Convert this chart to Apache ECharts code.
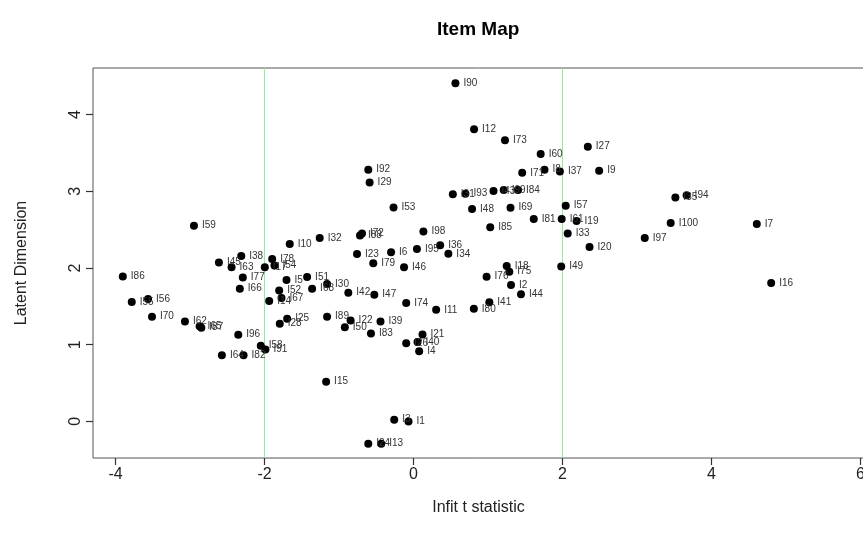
<!DOCTYPE html>
<html>
<head>
<meta charset="utf-8">
<script src="https://cdn.jsdelivr.net/npm/echarts@6/dist/echarts.min.js"></script>
<style>
html,body{margin:0;padding:0;background:#fff;}
#chart{width:863px;height:543px;}
</style>
</head>
<body>
<div id="chart"></div>
<script>
// ---- data ----
const itemNames = ["I59","I10","I32","I38","I78","I45","I63","I17","I54","I77",
  "I66","I86","I56","I55","I70","I62","I65","I87","I96","I58",
  "I91","I64","I82","I15","I5","I51","I52","I67","I14","I68",
  "I30","I25","I28","I89","I50","I22","I42","I47","I74","I11",
  "I39","I83","I21","I26","I40","I4","I23","I6","I95","I36",
  "I34","I79","I46","I18","I75","I76","I2","I44","I41","I80",
  "I49","I3","I1","I24","I13","I90","I12","I73","I60","I27",
  "I92","I29","I71","I8","I37","I9","I53","I31","I93","I43",
  "I99","I84","I48","I69","I57","I81","I61","I19","I85","I33",
  "I98","I72","I88","I20","I97","I100","I7","I35","I94","I16"];
const infitT = [-2.947,-1.661,-1.259,-2.312,-1.897,-2.612,-2.442,-1.996,-1.866,-2.291,
  -2.331,-3.902,-3.563,-3.782,-3.510,-3.068,-2.871,-2.848,-2.352,-2.050,
  -1.987,-2.572,-2.281,-1.173,-1.705,-1.428,-1.803,-1.772,-1.937,-1.361,
  -1.160,-1.696,-1.795,-1.160,-0.922,-0.844,-0.875,-0.526,-0.098,0.304,
  -0.443,-0.571,0.121,-0.098,0.054,0.076,-0.758,-0.301,0.046,0.358,
  0.468,-0.540,-0.127,1.251,1.286,0.981,1.309,1.443,1.018,0.810,
  1.983,-0.259,-0.067,-0.607,-0.433,0.563,0.813,1.228,1.707,2.340,
  -0.607,-0.589,1.459,1.758,1.965,2.492,-0.268,0.528,0.697,1.074,
  1.211,1.403,0.786,1.302,2.043,1.614,1.989,2.189,1.030,2.070,
  0.133,-0.691,-0.718,2.363,3.104,3.452,4.608,3.515,3.666,4.801];
const latentDim = [2.552,2.313,2.391,2.156,2.117,2.073,2.008,2.008,2.034,1.877,
  1.730,1.890,1.596,1.557,1.365,1.304,1.241,1.222,1.130,0.987,
  0.939,0.861,0.861,0.518,1.844,1.883,1.708,1.609,1.570,1.730,
  1.791,1.339,1.274,1.365,1.228,1.317,1.678,1.652,1.544,1.454,
  1.304,1.147,1.134,1.020,1.035,0.913,2.183,2.206,2.248,2.297,
  2.184,2.063,2.008,2.026,1.952,1.887,1.778,1.658,1.554,1.467,
  2.021,0.022,0.000,-0.291,-0.291,4.407,3.807,3.664,3.486,3.582,
  3.282,3.116,3.240,3.282,3.259,3.269,2.790,2.960,2.969,3.005,
  3.018,3.018,2.769,2.786,2.812,2.640,2.640,2.614,2.532,2.450,
  2.476,2.451,2.424,2.274,2.391,2.587,2.574,2.920,2.947,1.804];
const xTicks = [-4, -2, 0, 2, 4, 6];
const yTicks = [0, 1, 2, 3, 4];
const refLines = [-2, 2];
const xRange = [-4.302, 6.047];
const yRange = [-0.477, 4.607];

// ---- chart ----
const FONT = "'Liberation Sans', Arial, Helvetica, sans-serif";
const GREEN = '#90ee90';
const chart = echarts.init(document.getElementById('chart'), null, {renderer: 'canvas'});
const points = itemNames.map((n, i) => ({name: n, value: [infitT[i], latentDim[i]]}));
const refSeries = refLines.map(v => ({
  type: 'line', z: 1, silent: true, symbol: 'none', animation: false, color: GREEN,
  data: [[v, yRange[0]], [v, yRange[1]]],
  itemStyle: {color: GREEN},
  lineStyle: {color: GREEN, width: 1, opacity: 1},
  emphasis: {disabled: true}
}));

chart.setOption({
  animation: false,
  backgroundColor: '#fff',
  title: {
    text: 'Item Map', left: 437, top: 20, padding: 0,
    textStyle: {fontFamily: FONT, fontSize: 19, fontWeight: 'bold', color: '#000'}
  },
  grid: {left: 93, top: 68, bottom: 85, right: -1, outerBoundsMode: 'none', containLabel: false,
    show: true, borderColor: '#555', borderWidth: 1, backgroundColor: 'transparent'},
  xAxis: {
    type: 'value', min: xRange[0], max: xRange[1],
    name: 'Infit t statistic', nameLocation: 'middle', nameGap: 42,
    nameTextStyle: {fontFamily: FONT, fontSize: 16, color: '#222'},
    axisLine: {show: false, onZero: false},
    axisTick: {show: true, inside: false, length: 7, customValues: xTicks, lineStyle: {color: '#333', width: 1.2}},
    axisLabel: {customValues: xTicks, margin: 9, fontFamily: FONT, fontSize: 16, color: '#222', formatter: v => String(v)},
    splitLine: {show: false}
  },
  yAxis: {
    type: 'value', min: yRange[0], max: yRange[1],
    name: 'Latent Dimension', nameLocation: 'middle', nameGap: 63,
    nameTextStyle: {fontFamily: FONT, fontSize: 16, color: '#222'},
    axisLine: {show: false, onZero: false},
    axisTick: {show: true, inside: false, length: 7, customValues: yTicks, lineStyle: {color: '#333', width: 1.2}},
    axisLabel: {customValues: yTicks, rotate: 90, margin: 9, fontFamily: FONT, fontSize: 16, color: '#222', formatter: v => String(v)},
    splitLine: {show: false}
  },
  series: [
    ...refSeries,
    {
      type: 'scatter', z: 2, data: points, symbol: 'circle', symbolSize: 8,
      itemStyle: {color: '#000', opacity: 1},
      label: {show: true, position: 'right', distance: 4, formatter: '{b}',
        fontFamily: FONT, fontSize: 10, color: '#333'},
      emphasis: {disabled: true}
    }
  ]
});
</script>
</body>
</html>
